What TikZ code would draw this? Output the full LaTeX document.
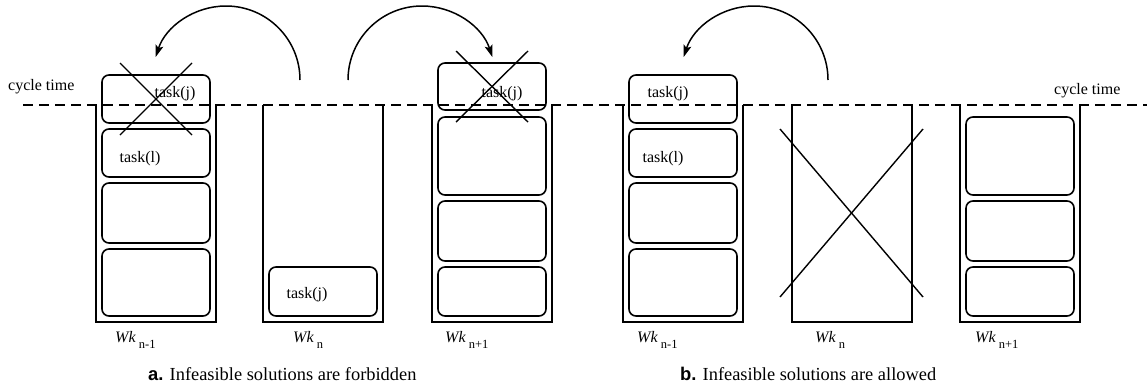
\documentclass[tikz,border=0pt]{standalone}
\usepackage{fontspec}
\setmainfont{Liberation Serif}
\newfontfamily\capsans{Liberation Sans}
\usetikzlibrary{arrows.meta}
\begin{document}
\begin{tikzpicture}[x=1pt,y=-1pt,
  cont/.style={line width=1.8pt},
  taskbox/.style={draw, rounded corners=7pt, line width=1.6pt, inner sep=0pt, outer sep=0pt, anchor=north west, minimum width=108pt},
  crossline/.style={line width=1.4pt},
  tasktext/.style={anchor=base, inner sep=0pt, font=\fontsize{16}{18}\selectfont},
  cyc/.style={anchor=base west, inner sep=0pt, font=\fontsize{16}{18}\selectfont},
  wk/.style={anchor=base west, inner sep=0pt, font=\fontsize{16}{18}\selectfont},
  captext/.style={anchor=base west, inner sep=0pt, font=\fontsize{18.4}{20}\selectfont},
  cycleline/.style={line width=1.8pt, dash pattern=on 10pt off 6pt},
  arr/.style={line width=1.5pt, -{Stealth[length=12pt,width=8pt,inset=2.5pt]}}
]
\useasboundingbox (0,0) rectangle (1147,386);
\newcommand{\wksub}[1]{\textit{Wk}\hspace{3pt}\raisebox{-6.5pt}{\fontsize{12.5}{14}\selectfont #1}}

% ---------- panel a ----------
\draw[cont] (96,105) |- (216,322) -- (216,105);
\draw[cont] (263,105) |- (383,322) -- (383,105);
\draw[cont] (432,105) |- (552,322) -- (552,105);
\node[taskbox, minimum height=48pt] (a1t1) at (102,75) {};
\node[taskbox, minimum height=48pt] (a1t2) at (102,129) {};
\node[taskbox, minimum height=60pt] (a1t3) at (102,183) {};
\node[taskbox, minimum height=67pt] (a1t4) at (102,249) {};
\node[taskbox, minimum height=49pt] (a2t1) at (269,267) {};
\node[taskbox, minimum height=47pt] (a3t1) at (438,63) {};
\node[taskbox, minimum height=78pt] (a3t2) at (438,117) {};
\node[taskbox, minimum height=60pt] (a3t3) at (438,201) {};
\node[taskbox, minimum height=49pt] (a3t4) at (438,267) {};

% ---------- panel b ----------
\draw[cont] (623,105) |- (743,322) -- (743,105);
\draw[cont] (792,105) |- (912,322) -- (912,105);
\draw[cont] (960,105) |- (1080,322) -- (1080,105);
\node[taskbox, minimum height=48pt] (b1t1) at (629,75) {};
\node[taskbox, minimum height=48pt] (b1t2) at (629,129) {};
\node[taskbox, minimum height=60pt] (b1t3) at (629,183) {};
\node[taskbox, minimum height=67pt] (b1t4) at (629,249) {};
\node[taskbox, minimum height=78pt] (b3t1) at (966,117) {};
\node[taskbox, minimum height=60pt] (b3t2) at (966,201) {};
\node[taskbox, minimum height=49pt] (b3t3) at (966,267) {};

% cycle time line
\draw[cycleline] (23,105) -- (1147,105);

% task texts
\node[tasktext] (ta1j) at (175,97.5) {task(j)};
\node[tasktext] (ta1l) at (140,162) {task(l)};
\node[tasktext] (ta2j) at (307,298) {task(j)};
\node[tasktext] (ta3j) at (502,97.5) {task(j)};
\node[tasktext] (tb1j) at (668,97.5) {task(j)};
\node[tasktext] (tb1l) at (663,162) {task(l)};

% crosses
\draw[crossline] (120,63) -- (192,135);
\draw[crossline] (192,63) -- (120,135);
\draw[crossline] (456,51) -- (528,122);
\draw[crossline] (528,51) -- (456,122);
\draw[crossline] (780,129) -- (923,297);
\draw[crossline] (923,129) -- (780,297);

% arrows
\coordinate (s1) at (300,80);
\coordinate (s2) at (348,80);
\coordinate (s3) at (828,80);
\draw[arr] (s1) arc[start angle=0, end angle=-161.9, radius=74];
\draw[arr] (s2) arc[start angle=180, end angle=341.9, radius=74];
\draw[arr] (s3) arc[start angle=0, end angle=-161.9, radius=74];

% cycle time labels
\node[cyc] (cyl) at (8,90) {cycle time};
\node[cyc] (cyr) at (1054,94) {cycle time};

% station labels
\node[wk] (la1) at (115,342) {\wksub{n-1}};
\node[wk] (la2) at (293,342) {\wksub{n}};
\node[wk] (la3) at (445,342) {\wksub{n+1}};
\node[wk] (lb1) at (637,342) {\wksub{n-1}};
\node[wk] (lb2) at (815,342) {\wksub{n}};
\node[wk] (lb3) at (975,342) {\wksub{n+1}};

% captions
\node[captext] (capa) at (148,380) {{\capsans\bfseries a.} Infeasible solutions are forbidden};
\node[captext] (capb) at (680,380) {{\capsans\bfseries b.} Infeasible solutions are allowed};
\end{tikzpicture}
\end{document}
